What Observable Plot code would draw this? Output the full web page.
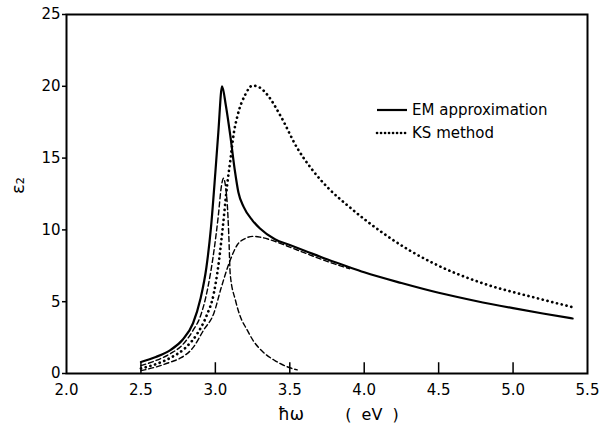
<!DOCTYPE html>
<html>
<head>
<meta charset="utf-8">
<script src="https://cdn.jsdelivr.net/npm/d3@7"></script>
<script src="https://cdn.jsdelivr.net/npm/@observablehq/plot@0.6"></script>
<style>
  html, body { margin: 0; padding: 0; background: #fff; }
  #chart { width: 615px; height: 428px; }
</style>
</head>
<body>
<div id="chart"></div>
<script>
// ---- data (photon energy in eV, epsilon_2) ----
const EM_X = [2.50, 2.60, 2.70, 2.78, 2.85, 2.90, 2.94, 2.97, 3.00, 3.02, 3.045, 3.07, 3.10, 3.13, 3.155, 3.19, 3.25, 3.30, 3.40, 3.50, 3.60, 3.75, 3.90, 4.00, 4.25, 4.50, 4.75, 5.00, 5.20, 5.40];
const EM_Y = [0.80, 1.15, 1.65, 2.35, 3.50, 5.20, 7.40, 10.1, 14.0, 16.8, 20.0, 18.7, 16.6, 14.2, 12.6, 11.6, 10.65, 10.1, 9.35, 8.95, 8.55, 7.95, 7.40, 7.05, 6.30, 5.62, 5.05, 4.55, 4.18, 3.83];

const KS_X = [2.50, 2.60, 2.70, 2.80, 2.88, 2.94, 2.99, 3.02, 3.05, 3.08, 3.10, 3.125, 3.15, 3.20, 3.25, 3.30, 3.35, 3.44, 3.55, 3.65, 3.75, 3.90, 4.13, 4.30, 4.47, 4.80, 5.14, 5.40];
const KS_Y = [0.35, 0.65, 1.10, 1.80, 2.80, 4.00, 5.60, 7.50, 10.2, 13.2, 14.8, 16.8, 18.0, 19.4, 20.05, 19.9, 19.4, 17.9, 15.7, 14.2, 13.0, 11.6, 9.75, 8.60, 7.65, 6.27, 5.30, 4.62];

const PEAK_X = [2.50, 2.60, 2.70, 2.77, 2.85, 2.90, 2.95, 2.99, 3.02, 3.04, 3.055, 3.07, 3.08, 3.09, 3.10, 3.135, 3.17, 3.21, 3.26, 3.32, 3.40, 3.50, 3.55];
const PEAK_Y = [0.55, 0.90, 1.40, 1.90, 3.00, 4.00, 6.00, 8.50, 11.0, 13.0, 13.6, 12.9, 11.8, 9.70, 6.90, 5.10, 3.90, 3.10, 2.20, 1.50, 0.90, 0.40, 0.25];

const BROAD_X = [2.50, 2.60, 2.70, 2.77, 2.85, 2.92, 2.99, 3.04, 3.10, 3.15, 3.20, 3.25, 3.30, 3.40, 3.50, 3.60, 3.70, 3.80, 3.90];
const BROAD_Y = [0.20, 0.45, 0.80, 1.10, 1.80, 3.00, 4.20, 6.00, 7.90, 9.00, 9.40, 9.55, 9.50, 9.20, 8.80, 8.40, 8.00, 7.63, 7.30];

const X_TICKS = [2.0, 2.5, 3.0, 3.5, 4.0, 4.5, 5.0, 5.5];
const X_INNER_TICKS = [2.5, 3.0, 3.5, 4.0, 4.5, 5.0];
const Y_TICKS = [0, 5, 10, 15, 20, 25];
const LEGEND = [
  {label: "EM approximation", dash: null, width: 2.2},
  {label: "KS method", dash: "0.1,3.9", width: 2.6}
];

const toRows = (xs, ys) => xs.map((x, i) => ({x, y: ys[i]}));

const dotted = {strokeDasharray: "0.1,4.8", strokeWidth: 2.7, strokeLinecap: "round"};
const dashed = {strokeDasharray: "5,3", strokeWidth: 1.4};

const svg = Plot.plot({
  width: 615,
  height: 428,
  marginLeft: 66,
  marginRight: 28,
  marginTop: 14,
  marginBottom: 55,
  style: {fontFamily: "DejaVu Sans", fontSize: "15px", color: "black", background: "white"},
  x: {domain: [2, 5.5]},
  y: {domain: [0, 25]},
  marks: [
    Plot.axisY({ticks: Y_TICKS, tickSize: 4, tickPadding: 2, tickFormat: d => String(d), label: null, strokeWidth: 1.5}),
    Plot.axisX({ticks: X_TICKS, tickSize: 0, tickPadding: 11, tickFormat: d3.format(".1f"), label: null}),
    Plot.ruleX(X_INNER_TICKS, {y1: 0, y2: 0.75, strokeWidth: 1.5}),
    Plot.line(toRows(BROAD_X, BROAD_Y), {x: "x", y: "y", curve: "monotone-x", stroke: "black", ...dashed}),
    Plot.line(toRows(PEAK_X, PEAK_Y), {x: "x", y: "y", curve: "monotone-x", stroke: "black", ...dashed}),
    Plot.line(toRows(KS_X, KS_Y), {x: "x", y: "y", curve: "monotone-x", stroke: "black", ...dotted}),
    Plot.line(toRows(EM_X, EM_Y), {x: "x", y: "y", curve: "monotone-x", stroke: "black", strokeWidth: 2.2}),
    Plot.frame({stroke: "black", strokeWidth: 2}),
    Plot.text(["ε₂"], {frameAnchor: "left", dx: -48, rotate: -90, fontSize: 18}),
    Plot.text(["ħω"], {frameAnchor: "bottom", dx: -36, dy: 46, fontSize: 17}),
    Plot.text(["(\u00A0\u00A0eV\u00A0\u00A0)"], {frameAnchor: "bottom", dx: 45, dy: 46, fontSize: 16})
  ]
});

// legend inside the plotting area
const lg = d3.select(svg).append("g").attr("text-anchor", "start");
LEGEND.forEach((item, i) => {
  const y = 110 + i * 23;
  const line = lg.append("line")
    .attr("x1", 377).attr("x2", 407).attr("y1", y).attr("y2", y)
    .attr("stroke", "black").attr("stroke-width", item.width)
    .attr("stroke-linecap", item.dash ? "round" : "butt");
  if (item.dash) line.attr("stroke-dasharray", item.dash);
  lg.append("text")
    .attr("x", 412).attr("y", y).attr("dy", "0.35em")
    .attr("text-anchor", "start")
    .attr("font-family", "DejaVu Sans").attr("font-size", 15)
    .attr("fill", "black")
    .text(item.label);
});

document.getElementById("chart").appendChild(svg);
</script>
</body>
</html>
